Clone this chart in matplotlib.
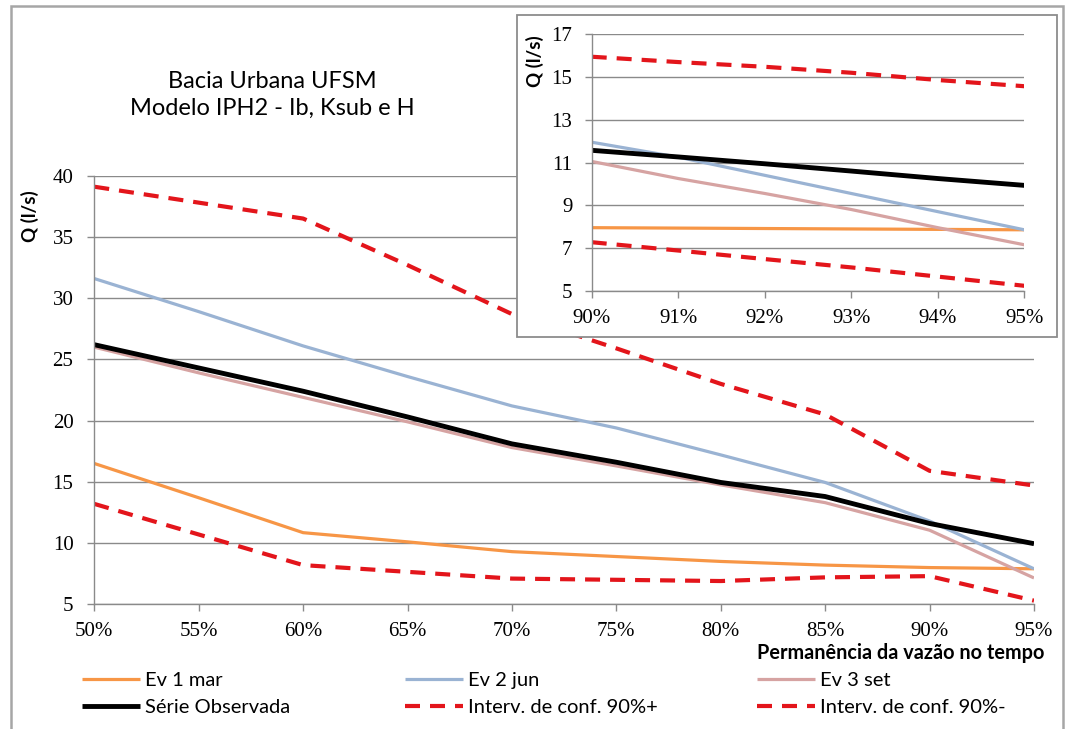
import matplotlib
matplotlib.use("Agg")
import matplotlib.pyplot as plt
from matplotlib.patches import Rectangle
from matplotlib.ticker import FuncFormatter

# Permanencia (%) e vazoes Q (l/s)
perm = [50, 55, 60, 65, 70, 75, 80, 85, 90, 95]
ev1_mar = [16.5, 13.7, 10.85, 10.1, 9.3, 8.9, 8.5, 8.2, 8.0, 7.9]
ev2_jun = [31.6, 28.9, 26.1, 23.6, 21.2, 19.4, 17.2, 14.95, 11.8, 7.9]
ev3_set = [26.0, 23.9, 21.9, 19.9, 17.8, 16.3, 14.75, 13.3, 11.05, 7.15]
observada = [26.2, 24.3, 22.4, 20.3, 18.1, 16.6, 14.95, 13.8, 11.6, 9.95]
ic_sup = [39.1, 37.8, 36.5, 32.7, 28.7, 25.9, 23.0, 20.5, 15.9, 14.7]
ic_inf = [13.2, 10.7, 8.2, 7.65, 7.1, 7.0, 6.9, 7.2, 7.3, 5.3]

# detalhe 90% - 95%
perm_zoom = [90, 91, 92, 93, 94, 95]
ev1_zoom = [7.95, 7.93, 7.91, 7.89, 7.87, 7.85]
ev2_zoom = [11.95, 11.25, 10.4, 9.55, 8.7, 7.85]
ev3_zoom = [11.05, 10.25, 9.55, 8.8, 7.95, 7.15]
obs_zoom = [11.57, 11.26, 10.94, 10.6, 10.25, 9.93]
icsup_zoom = [15.95, 15.7, 15.48, 15.2, 14.86, 14.57]
icinf_zoom = [7.27, 6.88, 6.48, 6.09, 5.66, 5.23]

labels = ["Ev 1 mar", "Ev 2 jun", "Ev 3 set", "Série Observada",
          "Interv. de conf. 90%+", "Interv. de conf. 90%-"]

c_orange = "#F79646"
c_blue = "#9AB3D3"
c_pink = "#D6A3A2"
c_black = "#000000"
c_red = "#E3151B"
c_grid = "#8A8A8A"

sans = "Lato"
serif = "Liberation Serif"

W, H = 1066, 729
fig = plt.figure(figsize=(W / 100, H / 100), dpi=100)


def box(x0, y0, x1, y1):
    # pixel box (top-left origin) -> figure fractions
    return [x0 / W, 1 - y1 / H, (x1 - x0) / W, (y1 - y0) / H]


def draw_series(ax, x, series, lw_thin, lw_black, lw_dash):
    h = []
    h += ax.plot(x, series[0], color=c_orange, lw=lw_thin, solid_capstyle="butt")
    h += ax.plot(x, series[1], color=c_blue, lw=lw_thin, solid_capstyle="butt")
    h += ax.plot(x, series[2], color=c_pink, lw=lw_thin, solid_capstyle="butt")
    h += ax.plot(x, series[3], color=c_black, lw=lw_black, solid_capstyle="butt")
    h += ax.plot(x, series[4], color=c_red, lw=lw_dash, ls=(0, (3.6, 2.4)))
    h += ax.plot(x, series[5], color=c_red, lw=lw_dash, ls=(0, (3.6, 2.4)))
    return h


def style_axes(ax, pad_y, pad_x):
    for s in ["top", "right"]:
        ax.spines[s].set_visible(False)
    for s in ["left", "bottom"]:
        ax.spines[s].set_color(c_grid)
        ax.spines[s].set_linewidth(1.0)
    ax.yaxis.grid(True, color=c_grid, lw=1.0)
    ax.set_axisbelow(True)
    ax.tick_params(axis="y", direction="out", length=5, width=1, color=c_grid, pad=pad_y)
    ax.tick_params(axis="x", direction="out", length=5, width=1, color=c_grid, pad=pad_x)
    for t in ax.get_xticklabels() + ax.get_yticklabels():
        t.set_fontfamily(serif)
        t.set_fontsize(15)
    ax.xaxis.set_major_formatter(FuncFormatter(lambda v, p: "%d%%" % v))


# grafico principal
ax = fig.add_axes(box(94.3, 175.7, 1034, 604.3))
handles = draw_series(ax, perm, [ev1_mar, ev2_jun, ev3_set, observada, ic_sup, ic_inf],
                      2.3, 3.5, 3.0)
ax.set_xlim(50, 95)
ax.set_ylim(5, 40)
ax.set_xticks(perm)
ax.set_yticks(range(5, 41, 5))
style_axes(ax, 10, 8)

# moldura externa
fig.patches.append(Rectangle((10.5 / W, -0.05), (1063 - 10.5) / W, 1 - 6 / H + 0.05,
                             transform=fig.transFigure, fill=False,
                             edgecolor="#A6A6A6", lw=1.8, zorder=0.5))

# caixa do detalhe
fig.patches.append(Rectangle((517 / W, 1 - 337 / H), 540 / W, 322 / H,
                             transform=fig.transFigure, facecolor="white",
                             edgecolor="#8C8C8C", lw=1.3, zorder=1))

axz = fig.add_axes(box(591.7, 34.3, 1024.3, 290.7))
axz.set_zorder(2)
axz.patch.set_facecolor("white")
draw_series(axz, perm_zoom, [ev1_zoom, ev2_zoom, ev3_zoom, obs_zoom, icsup_zoom, icinf_zoom],
            2.3, 3.5, 3.0)
axz.set_xlim(90, 95)
axz.set_ylim(5, 17)
axz.set_xticks(perm_zoom)
axz.set_yticks(range(5, 18, 2))
style_axes(axz, 9, 8)

# textos
fig.text(272 / W, 1 - 95 / H, "Bacia Urbana UFSM\nModelo IPH2 - Ib, Ksub e H",
         ha="center", va="center", fontsize=17, family=sans, linespacing=1.38)
fig.text(30 / W, 1 - 216 / H, "Q (l/s)", rotation=90, ha="center", va="center",
         fontsize=13.5, family=sans, fontweight="bold")
fig.text(535 / W, 1 - 61 / H, "Q (l/s)", rotation=90, ha="center", va="center",
         fontsize=13.5, family=sans, fontweight="bold")
fig.text(1044 / W, 1 - 653 / H, "Permanência da vazão no tempo", ha="right", va="center",
         fontsize=14.3, family=sans, fontweight="bold")

# legenda em tres colunas
cols = [(0, 3, 82), (1, 4, 405), (2, 5, 757)]
for i, j, xpx in cols:
    fig.legend([handles[i], handles[j]], [labels[i], labels[j]],
               loc="center left", bbox_to_anchor=(xpx / W, 1 - 694 / H),
               frameon=False, borderpad=0, borderaxespad=0, handlelength=2.9,
               handletextpad=0.25, labelspacing=0.48,
               prop={"family": sans, "size": 14.5})

fig.savefig("out.png", dpi=100)
